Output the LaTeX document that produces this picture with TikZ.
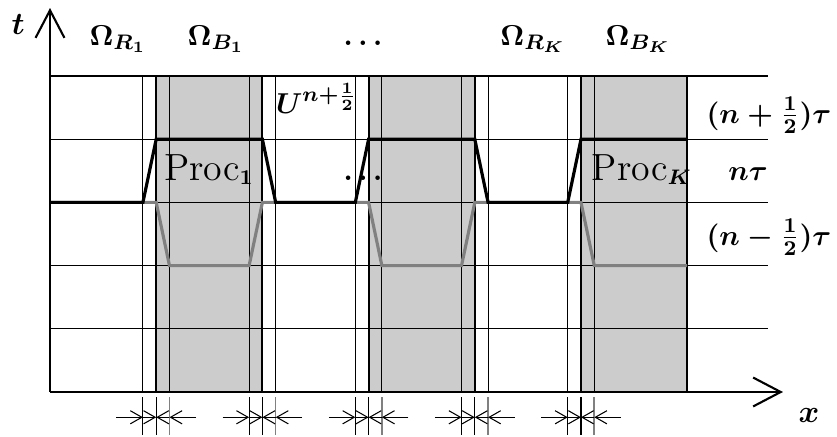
\documentclass[11pt,tikz,border=0pt]{standalone}
\usepackage{amsmath, amssymb}
\usetikzlibrary{arrows.meta}

\begin{document}
\begin{tikzpicture}[x=1.42cm, y=0.845cm, font=\boldmath,
    axis/.style={thick, -{Straight Barb[length=10.5pt, width=11pt]}},
    overlap/.style={-{Straight Barb[length=4.4pt, width=5pt]}},
    newsol/.style={line width=1.2pt, black},
    oldsol/.style={line width=1.2pt, gray}]
    \useasboundingbox (-0.4708,-0.712) rectangle (7.4105,6.203);

    % Shaded subdomains Omega_B
    \fill[black!20] (1,0) rectangle (2,5);
    \fill[black!20] (3,0) rectangle (4,5);
    \fill[black!20] (5,0) rectangle (6,5);

    % Time levels
    \foreach \y in {1,...,5}
        \draw (0,\y) -- (6.76,\y);

    % Interfaces with overlap
    \foreach \k in {1,...,5} {
        \draw (\k-0.125,0) -- (\k-0.125,5);
        \draw (\k+0.125,0) -- (\k+0.125,5);
        \draw[thick] (\k,0) -- (\k,5);
    }
    \draw[thick] (6,0) -- (6,5);

    % Solution at t^{n-1/2}
    \draw[oldsol] (0,3) -- (1,3) -- (1.125,2) -- (1.875,2) -- (2,3) -- (3,3)
        -- (3.125,2) -- (3.875,2) -- (4,3) -- (5,3) -- (5.125,2) -- (6,2);
    % Solution at t^{n+1/2}
    \draw[newsol] (0,3) -- (0.875,3) -- (1,4) -- (2,4) -- (2.125,3) -- (2.875,3)
        -- (3,4) -- (4,4) -- (4.125,3) -- (4.875,3) -- (5,4) -- (6,4);

    % Axes
    \coordinate (O) at (0,0);
    \coordinate (xend) at (6.902,0);
    \coordinate (tend) at (0,6.076);
    \draw[axis] (O) -- (xend);
    \draw[axis] (O) -- (tend);
    \node[anchor=base, font=\large\boldmath] (tlab) at (-0.30,5.65) {$t$};
    \node[anchor=base, font=\large\boldmath] (xlab) at (7.147,-0.475) {$x$};

    % Overlap widths below the axis
    \foreach \k in {1,...,5} {
        \draw (\k-0.125,-0.08) -- (\k-0.125,-0.68);
        \draw (\k,-0.08) -- (\k,-0.68);
        \draw[gray, semithick] (\k+0.125,-0.08) -- (\k+0.125,-0.68);
        \draw[overlap] (\k-0.375,-0.4) -- (\k-0.125,-0.4);
        \draw[overlap] (\k-0.125,-0.4) -- (\k,-0.4);
        \draw[overlap] (\k+0.125,-0.4) -- (\k,-0.4);
        \draw[overlap] (\k+0.375,-0.4) -- (\k+0.125,-0.4);
    }

    % Subdomain names
    \node[anchor=base] (omR1) at (0.64,5.49) {$\Omega_{R_1}$};
    \node[anchor=base] (omB1) at (1.563,5.49) {$\Omega_{B_1}$};
    \node[anchor=base] (dotsTop) at (2.947,5.49) {$\ldots$};
    \node[anchor=base] (omRK) at (4.548,5.49) {$\Omega_{R_K}$};
    \node[anchor=base] (omBK) at (5.537,5.49) {$\Omega_{B_K}$};

    % Processors and solution
    \node[anchor=base] (uhalf) at (2.51,4.41) {$U^{n+\frac{1}{2}}$};
    \node[anchor=base] (proc1) at (1.497,3.354) {{\Large Proc}$_1$};
    \node[anchor=base] (dotsMid) at (2.947,3.354) {$\ldots$};
    \node[anchor=base] (procK) at (5.574,3.354) {{\Large Proc}$_K$};

    % Time labels
    \node[anchor=base] (tplus) at (6.77,4.256) {$(n+\frac{1}{2})\tau$};
    \node[anchor=base] (tnow) at (6.573,3.354) {$n\tau$};
    \node[anchor=base] (tminus) at (6.77,2.326) {$(n-\frac{1}{2})\tau$};
\end{tikzpicture}
\end{document}
